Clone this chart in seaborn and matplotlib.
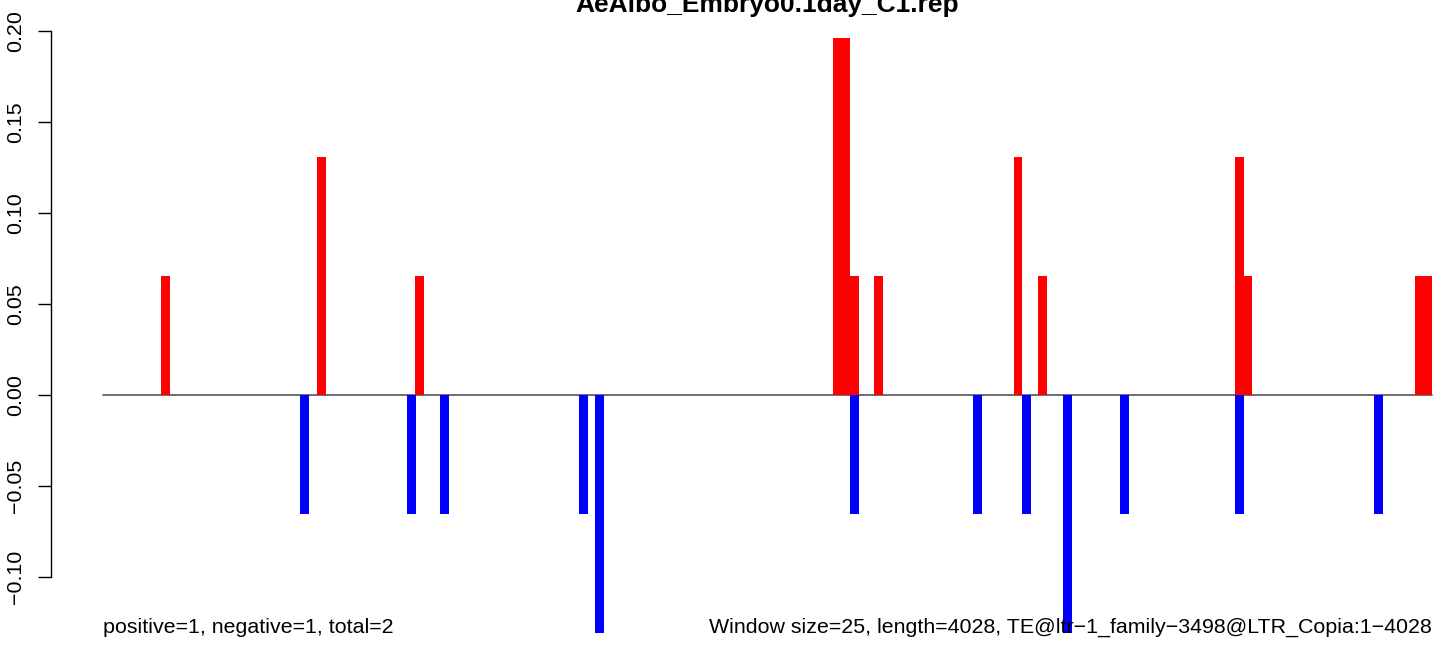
import pandas as pd
import seaborn as sns
import matplotlib.pyplot as plt
import numpy as np

# positions (bp, bar centres) and scores
plus_pos = [189, 662, 959, 2226, 2251, 2277, 2350, 2773, 2847, 3444, 3470, 3989, 4015]
plus_val = [0.0654, 0.1308, 0.0654, 0.1962, 0.1962, 0.0654, 0.0654, 0.1308, 0.0654, 0.1308, 0.0654, 0.0654, 0.0654]
minus_pos = [610, 934, 1034, 1456, 1504, 2277, 2650, 2798, 2923, 3095, 3444, 3865]
minus_val = [-0.0654, -0.0654, -0.0654, -0.0654, -0.1308, -0.0654, -0.0654, -0.0654, -0.1308, -0.0654, -0.0654, -0.0654]

title = 'AeAlbo_Embryo0.1day_C1.rep'
left_note = 'positive=1, negative=1, total=2'
right_note = 'Window size=25, length=4028, TE@ltr\u22121_family\u22123498@LTR_Copia:1\u22124028'
te_length = 4028
bar_bp = 26.5
yticks = [-0.10, -0.05, 0.00, 0.05, 0.10, 0.15, 0.20]
ytick_labels = ['\u22120.10', '\u22120.05', '0.00', '0.05', '0.10', '0.15', '0.20']

df = pd.concat([
    pd.DataFrame({'pos': plus_pos, 'value': plus_val, 'strand': 'plus'}),
    pd.DataFrame({'pos': minus_pos, 'value': minus_val, 'strand': 'minus'}),
], ignore_index=True)

sns.set_theme(style='ticks')
plt.rcParams['font.family'] = ['Liberation Sans', 'DejaVu Sans']
plt.rcParams['text.color'] = 'black'
plt.rcParams['ytick.color'] = 'black'
plt.rcParams['ytick.labelcolor'] = 'black'

fig = plt.figure(figsize=(14.44, 6.46), dpi=100)
ax = fig.add_axes([51 / 1444, 0, 1393 / 1444, 1])

# baseline from 0 to the TE length
ax.plot([0, te_length], [0, 0], color='#555555', lw=1.2, zorder=0)

# seaborn scales the bar width by the smallest gap between positions
native = np.diff(np.unique(df['pos'])).min()
sns.barplot(data=df, x='pos', y='value', hue='strand', native_scale=True,
            palette={'plus': '#ff0000', 'minus': '#0000ff'}, saturation=1,
            dodge=False, width=bar_bp / native, linewidth=0, errorbar=None,
            legend=False, ax=ax, zorder=2)

px = 1329 / te_length
ax.set_xlim(-52 / px, te_length + 12 / px)
ax.set_ylim(-(646 - 395) / 1820, 395 / 1820)
ax.set_xticks([])
ax.set_xlabel('')
ax.set_ylabel('')
ax.set_yticks(yticks)
ax.set_yticklabels(ytick_labels, rotation=90, va='center', fontsize=15.4, color='black')
ax.tick_params(axis='y', length=9.5, width=1, color='black', pad=9)
for s in ['top', 'right', 'bottom']:
    ax.spines[s].set_visible(False)
ax.spines['left'].set_bounds(-0.10, 0.20)
ax.spines['left'].set_color('black')
ax.spines['left'].set_linewidth(1)
ax.patch.set_alpha(0)

fig.text(767 / 1444, 1 - 12 / 646, title, ha='center', va='baseline',
         fontsize=19, fontweight='bold', color='black')
fig.text(103 / 1444, 1 - 633 / 646, left_note, ha='left', va='baseline',
         fontsize=15.4, color='black')
fig.text(1432 / 1444, 1 - 633 / 646, right_note, ha='right', va='baseline',
         fontsize=15.4, color='black')

fig.savefig('out.png', dpi=100)
